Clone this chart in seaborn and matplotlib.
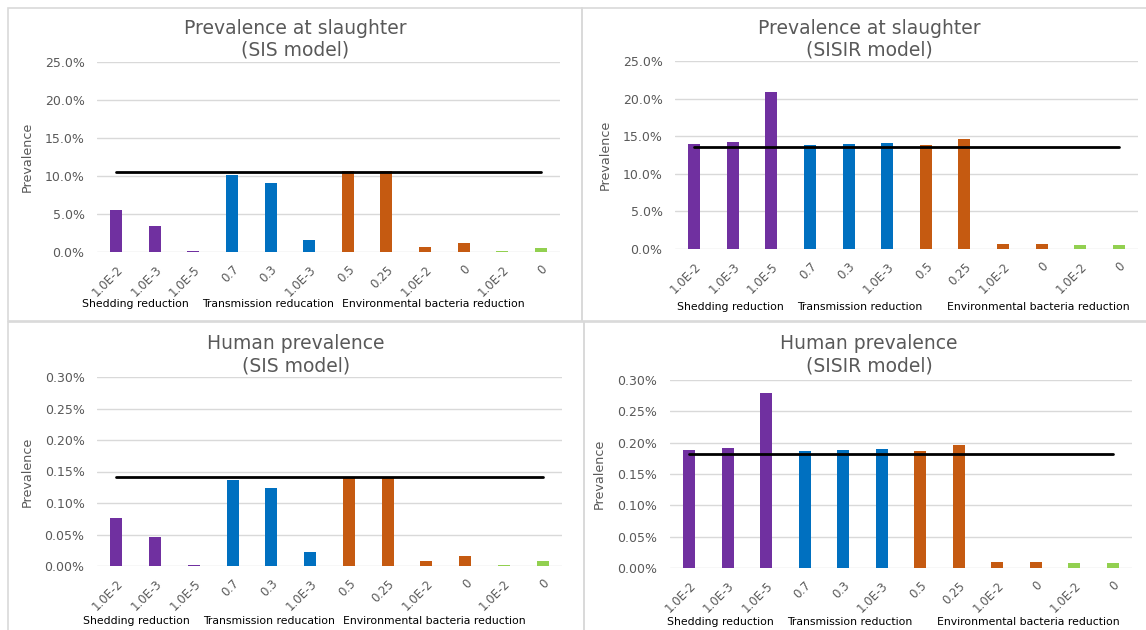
import matplotlib
matplotlib.use("Agg")
import matplotlib.pyplot as plt
from matplotlib.patches import Rectangle
from matplotlib.ticker import FuncFormatter
from matplotlib.transforms import ScaledTranslation
import numpy as np
import pandas as pd
import seaborn as sns

# ---- data -------------------------------------------------------------
tick_labels = ["1.0E-2", "1.0E-3", "1.0E-5", "0.7", "0.3", "1.0E-3",
               "0.5", "0.25", "1.0E-2", "0", "1.0E-2", "0"]
bar_groups = ["shedding"] * 3 + ["transmission"] * 3 + ["environmental"] * 4 + ["environmental_b"] * 2

# prevalence values (fractions)
slaughter_sis = [0.0548, 0.0346, 0.0018, 0.1018, 0.0912, 0.0162,
                 0.1070, 0.1070, 0.0070, 0.0123, 0.0018, 0.0057]
slaughter_sis_base = 0.1048

slaughter_sisir = [0.1400, 0.1418, 0.2092, 0.1387, 0.1400, 0.1414,
                   0.1387, 0.1467, 0.0071, 0.0071, 0.0058, 0.0058]
slaughter_sisir_base = 0.1352

human_sis = [0.000755, 0.000460, 0.000010, 0.001360, 0.001240, 0.000220,
             0.001405, 0.001405, 0.000085, 0.000158, 0.000016, 0.000085]
human_sis_base = 0.00142

human_sisir = [0.001885, 0.001907, 0.002800, 0.001870, 0.001885, 0.001900,
               0.001870, 0.001965, 0.000101, 0.000101, 0.000085, 0.000085]
human_sisir_base = 0.00182

group_labels_sis = ["Shedding reduction", "Transmission reducation", "Environmental bacteria reduction"]
group_labels_sisir = ["Shedding reduction", "Transmission reduction", "Environmental bacteria reduction"]

palette = {"shedding": "#7030A0", "transmission": "#0070C0",
           "environmental": "#C55A11", "environmental_b": "#92D050"}

TEXT = "#595959"
GRID = "#D9D9D9"

sns.set_theme(style="white")
plt.rcParams["font.family"] = ["DejaVu Sans"]

W, H = 1146, 630
fig = plt.figure(figsize=(W / 100, H / 100), dpi=100)


def px_axes(x0, y0, x1, y1):
    return fig.add_axes([x0 / W, 1 - y1 / H, (x1 - x0) / W, (y1 - y0) / H])


# panel frames
for (x0, y0, x1, y1) in [(8, 8, 582, 321), (582, 8, 1150, 321),
                         (8, 322, 584, 640), (584, 322, 1150, 640)]:
    fig.patches.append(Rectangle((x0 / W, 1 - y1 / H), (x1 - x0) / W, (y1 - y0) / H,
                                 transform=fig.transFigure, fill=False,
                                 edgecolor=GRID, linewidth=1.2, zorder=0))

# nudge for the rotated category labels (inches)
label_shift = ScaledTranslation(-0.05, -0.02, fig.dpi_scale_trans)


def panel(box, values, base, ymax, step, fmt, titles, title_x, title_y,
          groups_text, group_x, group_y, ylabel_x):
    x0, y0, x1, y1 = box
    ax = px_axes(*box)
    pos = list(range(len(values)))
    df = pd.DataFrame({"pos": pos, "value": values, "group": bar_groups})
    sns.barplot(data=df, x="pos", y="value", hue="group", palette=palette,
                dodge=False, width=0.31, legend=False, ax=ax, zorder=2,
                linewidth=0, saturation=1)
    sns.lineplot(x=pos, y=[base] * len(pos), color="black", linewidth=2.0,
                 ax=ax, zorder=3)
    ax.set_xlim(-0.5, len(values) - 0.5)
    ax.set_ylim(0, ymax)
    ax.set_yticks(np.arange(0, ymax + step / 2, step))
    ax.yaxis.set_major_formatter(FuncFormatter(lambda v, _: fmt.format(v * 100)))
    ax.set_xticks(pos)
    ax.set_xticklabels(tick_labels, rotation=45, ha="right", rotation_mode="anchor",
                       fontsize=8.5, color=TEXT)
    for lbl in ax.get_xticklabels():
        lbl.set_transform(lbl.get_transform() + label_shift)
    ax.tick_params(axis="x", length=0, pad=8)
    ax.tick_params(axis="y", length=0, pad=9, labelsize=9, labelcolor=TEXT)
    ax.grid(axis="y", color=GRID, linewidth=1)
    ax.set_axisbelow(True)
    for s in ax.spines.values():
        s.set_visible(False)
    ax.set_xlabel("")
    ax.set_ylabel("Prevalence", fontsize=9.2, color=TEXT)
    ax.yaxis.set_label_coords((ylabel_x - x0) / (x1 - x0), 0.5)
    for line, ty in zip(titles, title_y):
        fig.text(title_x / W, 1 - ty / H, line, ha="center", va="center",
                 fontsize=13.5, color=TEXT)
    for txt, gx in zip(groups_text, group_x):
        fig.text(gx / W, 1 - group_y / H, txt, ha="center", va="center",
                 fontsize=7.8, color="black")
    return ax


panel((97, 62, 560, 252), slaughter_sis, slaughter_sis_base, 0.25, 0.05, "{:.1f}%",
      ["Prevalence at slaughter", "(SIS model)"], 295, [29, 50],
      group_labels_sis, [135, 268, 433], 304, 34)
panel((675, 61, 1138, 249), slaughter_sisir, slaughter_sisir_base, 0.25, 0.05, "{:.1f}%",
      ["Prevalence at slaughter", "(SISIR model)"], 869, [29, 50],
      group_labels_sisir, [730, 860, 1038], 307, 612)
panel((97, 377, 562, 566), human_sis, human_sis_base, 0.003, 0.0005, "{:.2f}%",
      ["Human prevalence", "(SIS model)"], 296, [344, 366],
      group_labels_sis, [136, 269, 434], 621, 34)
panel((670, 380, 1132, 568), human_sisir, human_sisir_base, 0.003, 0.0005, "{:.2f}%",
      ["Human prevalence", "(SISIR model)"], 869, [344, 366],
      group_labels_sisir, [720, 850, 1028], 622, 606)

fig.savefig("out.png", dpi=100, facecolor="white")
